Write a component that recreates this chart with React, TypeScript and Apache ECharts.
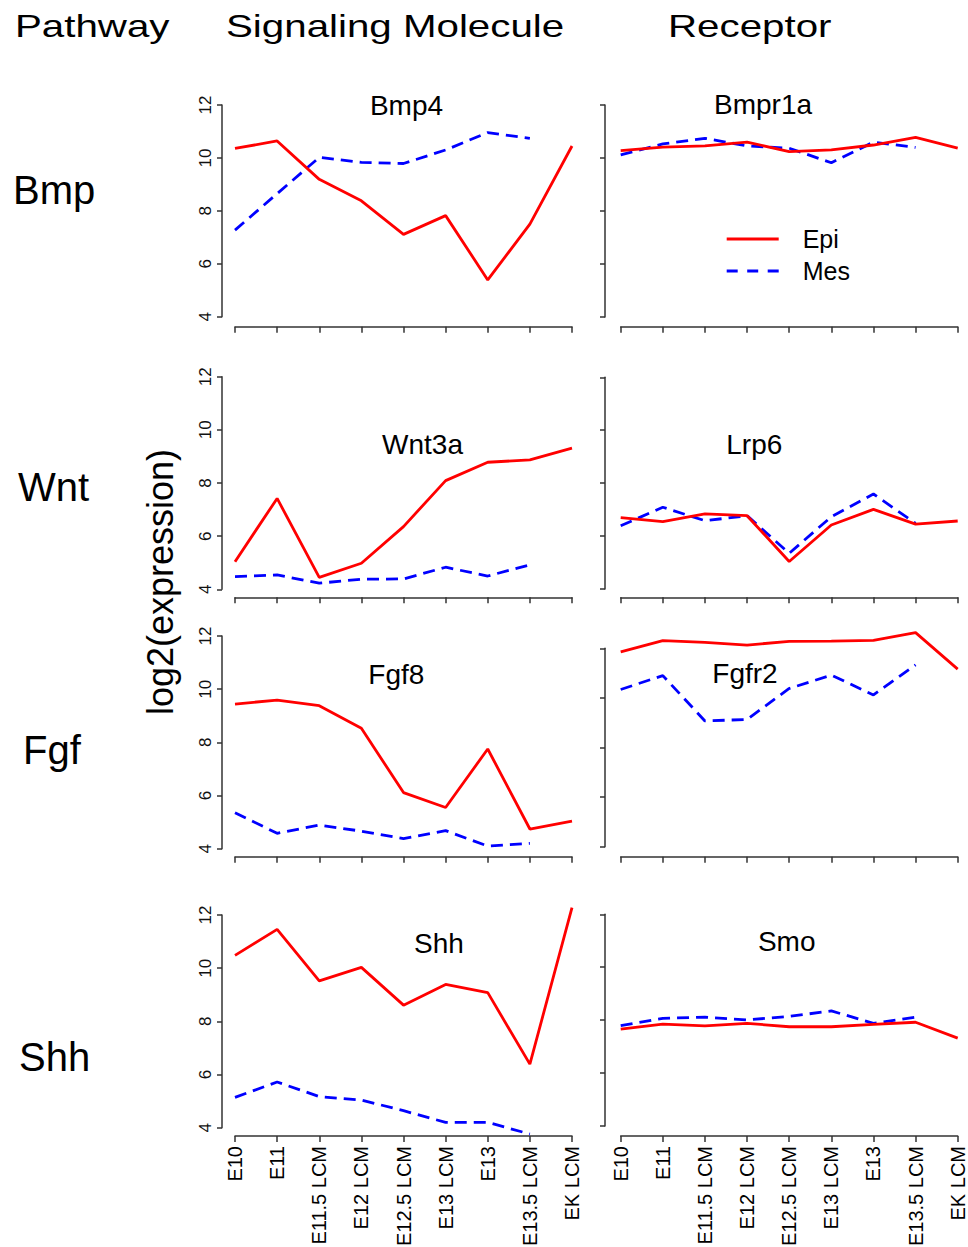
import React, { useEffect, useRef } from "react";
import * as echarts from "echarts";

// ---------- data ----------
const categories = ["E10", "E11", "E11.5 LCM", "E12 LCM", "E12.5 LCM", "E13 LCM", "E13", "E13.5 LCM", "EK LCM"];
const yTicks = [4, 6, 8, 10, 12];

const bmp4Epi = [10.36, 10.64, 9.19, 8.38, 7.11, 7.82, 5.39, 7.5, 10.45];
const bmp4Mes = [7.27, 8.65, 10.02, 9.83, 9.79, 10.3, 10.96, 10.74];
const bmpr1aEpi = [10.28, 10.41, 10.46, 10.6, 10.24, 10.31, 10.49, 10.78, 10.37];
const bmpr1aMes = [10.12, 10.53, 10.74, 10.46, 10.37, 9.82, 10.6, 10.4];

const wnt3aEpi = [5.04, 7.42, 4.45, 4.98, 6.36, 8.09, 8.78, 8.87, 9.31];
const wnt3aMes = [4.48, 4.54, 4.23, 4.38, 4.39, 4.83, 4.5, 4.92];
const lrp6Epi = [6.7, 6.55, 6.84, 6.77, 5.04, 6.42, 7.01, 6.45, 6.57];
const lrp6Mes = [6.39, 7.09, 6.58, 6.77, 5.35, 6.73, 7.59, 6.48];

const fgf8Epi = [9.44, 9.59, 9.38, 8.53, 6.11, 5.55, 7.75, 4.74, 5.04];
const fgf8Mes = [5.35, 4.58, 4.89, 4.66, 4.38, 4.68, 4.1, 4.2];
const fgfr2Epi = [11.86, 12.31, 12.24, 12.13, 12.28, 12.29, 12.32, 12.63, 11.16];
const fgfr2Mes = [10.34, 10.9, 9.07, 9.13, 10.38, 10.92, 10.12, 11.33];

const shhEpi = [10.48, 11.46, 9.52, 10.03, 8.61, 9.39, 9.08, 6.39, 12.28];
const shhMes = [5.14, 5.72, 5.17, 5.04, 4.64, 4.2, 4.2, 3.76];
const smoEpi = [7.66, 7.85, 7.78, 7.88, 7.75, 7.75, 7.84, 7.92, 7.32];
const smoMes = [7.79, 8.07, 8.11, 8.01, 8.14, 8.35, 7.88, 8.11];

const pathways = ["Bmp", "Wnt", "Fgf", "Shh"];
const headers = ["Pathway", "Signaling Molecule", "Receptor"];
const seriesNames = ["Epi", "Mes"];
const yAxisTitle = "log2(expression)";

const panels = [
  { gene: "Bmp4", epi: bmp4Epi, mes: bmp4Mes },
  { gene: "Bmpr1a", epi: bmpr1aEpi, mes: bmpr1aMes },
  { gene: "Wnt3a", epi: wnt3aEpi, mes: wnt3aMes },
  { gene: "Lrp6", epi: lrp6Epi, mes: lrp6Mes },
  { gene: "Fgf8", epi: fgf8Epi, mes: fgf8Mes },
  { gene: "Fgfr2", epi: fgfr2Epi, mes: fgfr2Mes },
  { gene: "Shh", epi: shhEpi, mes: shhMes },
  { gene: "Smo", epi: smoEpi, mes: smoMes },
];

// ---------- layout ----------
const FONT = "'Liberation Sans', Arial, Helvetica, sans-serif";
const AXIS_COLOR = "#333";
const RED = "#ff0000";
const BLUE = "#0000ff";
const colLeft = [235, 620.7];
const colYOffset = [13, 15.7];
const plotWidth = 337;
// [top(=12), bottom(=4), xAxis y] per panel
const panelBox = [
  [105, 316.7, 326.7],
  [105, 317, 326.7],
  [376.7, 589.3, 597.3],
  [377.3, 589, 597.3],
  [636, 848.7, 856.7],
  [648.3, 846.7, 856.7],
  [915, 1127.7, 1136],
  [914.3, 1126, 1136],
];
const titlePos = [
  [406.5, 105.5],
  [763, 104.7],
  [422.5, 444.5],
  [754.3, 444],
  [396.3, 674],
  [745, 673.3],
  [439, 943.3],
  [786.7, 941.7],
];
const rowLabelPos = [
  [13, 189.5],
  [18, 487],
  [23, 750],
  [19, 1057],
];

const epiIcon = "path://M0,0h52v3h-52z";
const mesIcon = "path://M0,0h11v3h-11zM20.5,0h11v3h-11zM41,0h11v3h-11z";

export default function App() {
  const ref = useRef<HTMLDivElement>(null);

  useEffect(() => {
    document.body.style.margin = "0";
    const chart = echarts.init(ref.current!, null, { renderer: "svg" });

    const grids: any[] = [];
    const xAxes: any[] = [];
    const yAxes: any[] = [];
    const series: any[] = [];
    const graphics: any[] = [];

    panels.forEach((p, i) => {
      const col = i % 2;
      const row = Math.floor(i / 2);
      const [top, bottom, xAxisY] = panelBox[i];
      grids.push({
        left: colLeft[col],
        top,
        width: plotWidth,
        height: bottom - top,
        outerBoundsMode: "none",
        containLabel: false,
      });
      xAxes.push({
        type: "category",
        gridIndex: i,
        data: categories,
        boundaryGap: false,
        offset: xAxisY - bottom,
        axisLine: { show: true, lineStyle: { color: AXIS_COLOR, width: 1.5 } },
        axisTick: { show: true, length: 6, interval: 0, lineStyle: { color: AXIS_COLOR, width: 1.5 } },
        axisLabel: {
          show: row === 3,
          rotate: 90,
          interval: 0,
          margin: 10,
          fontSize: 20,
          color: "#000",
          fontFamily: FONT,
        },
        splitLine: { show: false },
      });
      yAxes.push({
        type: "value",
        gridIndex: i,
        min: 4,
        max: 12,
        interval: 2,
        offset: colYOffset[col],
        axisLine: { show: true, lineStyle: { color: AXIS_COLOR, width: 1.5 } },
        axisTick: { show: true, length: 5, lineStyle: { color: AXIS_COLOR, width: 1.5 } },
        axisLabel: {
          show: col === 0,
          rotate: 90,
          margin: 8,
          fontSize: 17,
          color: "#111",
          fontFamily: FONT,
          formatter: (v: number) => (yTicks.includes(v) ? String(v) : ""),
        },
        splitLine: { show: false },
      });
      series.push({
        name: seriesNames[0],
        type: "line",
        xAxisIndex: i,
        yAxisIndex: i,
        data: p.epi,
        symbol: "none",
        clip: false,
        itemStyle: { color: RED },
        lineStyle: { color: RED, width: 2.8, type: "solid" },
        z: 3,
      });
      series.push({
        name: seriesNames[1],
        type: "line",
        xAxisIndex: i,
        yAxisIndex: i,
        data: p.mes,
        symbol: "none",
        clip: false,
        itemStyle: { color: BLUE },
        lineStyle: { color: BLUE, width: 2.8, type: [12, 7] },
        z: 2,
      });
      graphics.push({
        type: "text",
        x: titlePos[i][0],
        y: titlePos[i][1],
        z: 10,
        style: {
          text: p.gene,
          font: `28px ${FONT}`,
          fill: "#000",
          textAlign: "center",
          textVerticalAlign: "middle",
        },
      });
    });

    // headers
    const headerX = [15, 226, 668];
    headers.forEach((h, k) => {
      graphics.push({
        type: "text",
        x: headerX[k],
        y: 26,
        scaleX: 1.3,
        style: {
          text: h,
          font: `31px ${FONT}`,
          fill: "#000",
          textAlign: "left",
          textVerticalAlign: "middle",
        },
      });
    });
    // row labels
    pathways.forEach((pw, k) => {
      graphics.push({
        type: "text",
        x: rowLabelPos[k][0],
        y: rowLabelPos[k][1],
        style: {
          text: pw,
          font: `40px ${FONT}`,
          fill: "#000",
          textAlign: "left",
          textVerticalAlign: "middle",
        },
      });
    });
    // y axis title
    graphics.push({
      type: "text",
      x: 160,
      y: 582,
      rotation: Math.PI / 2,
      style: {
        text: yAxisTitle,
        font: `36px ${FONT}`,
        fill: "#000",
        textAlign: "center",
        textVerticalAlign: "middle",
      },
    });

    chart.setOption({
      animation: false,
      backgroundColor: "#fff",
      textStyle: { fontFamily: FONT },
      grid: grids,
      xAxis: xAxes,
      yAxis: yAxes,
      series,
      legend: {
        data: [
          { name: seriesNames[0], icon: epiIcon, itemStyle: { color: RED } },
          { name: seriesNames[1], icon: mesIcon, itemStyle: { color: BLUE } },
        ],
        orient: "vertical",
        left: 726.7,
        top: 226.5,
        padding: 0,
        itemWidth: 52,
        itemHeight: 3,
        itemGap: 7,
        selectedMode: false,
        textStyle: { fontSize: 25, color: "#000", fontFamily: FONT, padding: [0, 0, 0, 19] },
      },
      graphic: graphics,
    });

    return () => chart.dispose();
  }, []);

  return <div ref={ref} style={{ width: 968, height: 1247 }} />;
}
